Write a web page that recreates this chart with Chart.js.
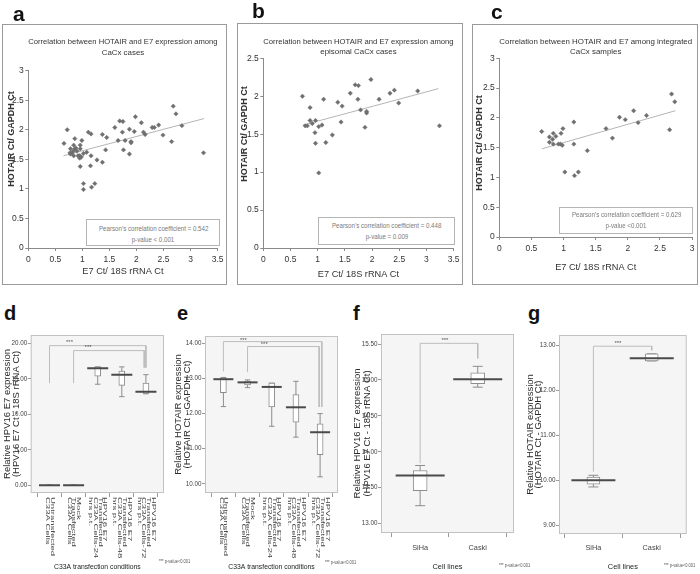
<!DOCTYPE html>
<html lang="en">
<head>
<meta charset="UTF-8">
<title>HOTAIR and HPV16 E7 expression</title>
<script src="https://cdn.jsdelivr.net/npm/chart.js"></script>
<style>
  body { margin: 0; background: #fff; }
  #fig { position: relative; width: 700px; height: 574px; overflow: hidden; background: #fff; }
  .frame { position: absolute; border: 1.5px solid #9a9a9a; box-sizing: border-box; pointer-events: none; }
  .plabel { position: absolute; font: bold 21px 'Liberation Sans', Arial, sans-serif; line-height: 21px; color: #111; }
  .plabel.sm { font-size: 20px; line-height: 20px; }
  .pearson { position: absolute; background: #fff; border: 1px solid #b5b5b5; box-sizing: border-box;
             color: #7a7a7a; font: 7.5px 'Liberation Sans Narrow', 'Arial Narrow', 'Liberation Sans', sans-serif;
             line-height: 11px; text-align: center; white-space: nowrap; }
  .pearson span { display: inline-block; transform: scaleX(0.82); transform-origin: center; }
  .pnote { position: absolute; font: 5px 'Liberation Sans Narrow', 'Arial Narrow', 'Liberation Sans', sans-serif;
           color: #555; line-height: 5px; white-space: nowrap; transform: scaleX(0.8); transform-origin: left; }
</style>
</head>
<body>
<div id="fig"></div>

<script>
// ---------- panels a-c: HOTAIR Ct/GAPDH Ct vs E7 Ct/18S rRNA Ct ----------
// episomal cases (panel b)
const episomalE7     = [0.72, 0.77, 0.81, 0.86, 0.86, 0.90, 0.96, 0.95, 0.96, 1.02, 1.02, 1.08, 1.11, 1.15, 1.27, 1.37, 1.43,
                        1.45, 1.60, 1.69, 1.75, 1.74, 1.79, 1.87, 1.90, 1.90, 1.98, 2.13, 2.33, 2.41, 2.49, 2.84, 3.24];
const episomalHotair = [2.00, 1.61, 1.61, 1.85, 1.68, 1.64, 1.68, 1.52, 1.38, 0.99, 1.60, 1.62, 1.96, 1.39, 1.49, 1.92, 1.66,
                        1.87, 2.04, 2.15, 2.14, 1.96, 1.82, 1.59, 1.78, 1.80, 2.22, 1.96, 2.04, 2.08, 1.91, 2.07, 1.61];
// integrated cases (panel c)
const integratedE7     = [0.66, 0.78, 0.78, 0.83, 0.84, 0.88, 0.84, 0.92, 0.95, 0.96, 0.99, 0.98, 1.02, 1.16, 1.16, 1.17,
                          1.23, 1.37, 1.66, 1.76, 1.87, 1.96, 2.09, 2.16, 2.29, 2.65, 2.68, 2.73];
const integratedHotair = [1.77, 1.68, 1.59, 1.64, 1.74, 1.69, 1.56, 1.56, 1.56, 1.74, 1.82, 1.54, 1.09, 1.93, 1.56, 1.03,
                          1.09, 1.45, 1.82, 1.66, 2.01, 1.97, 2.12, 1.92, 2.04, 1.80, 2.40, 2.27];
// all CaCx cases (panel a) = episomal + integrated
const allE7     = episomalE7.concat(integratedE7);
const allHotair = episomalHotair.concat(integratedHotair);

// trend line end points
const trendAllE7 = [0.65, 3.25],        trendAllHotair = [1.56, 2.19];
const trendEpisomalE7 = [0.73, 3.22],   trendEpisomalHotair = [1.62, 2.10];
const trendIntegratedE7 = [0.66, 2.74], trendIntegratedHotair = [1.48, 2.12];

// ---------- panels d, e: C33A transfection ----------
const c33aConditions = [
  ['Untransfected', 'C33A Cells'],
  ['Mock', 'Transfected', 'C33A Cells'],
  ['HPV16 E7', 'Transfected', 'C33A Cells-24', 'hrs p.t.'],
  ['HPV16 E7', 'Transfected', 'C33A Cells-48', 'hrs p.t.'],
  ['HPV16 E7', 'Transfected', 'C33A Cells-72', 'hrs p.t.']
];
const e7Min    = [0, 0, 14.25, 12.5, 12.9];
const e7Q1     = [0, 0, 15.4, 14.1, 12.95];
const e7Median = [0, 0, 16.5, 15.6, 13.2];
const e7Q3     = [0, 0, 16.7, 16.1, 14.4];
const e7Max    = [0, 0, 16.7, 16.7, 15.6];
const e7Ticks  = [0, 5, 10, 15, 20];
const e7Brackets = [[1, 14.4, 19.7, 5, 16.6], [2, 14.4, 19.0, 4.93, 16.6]];   // [x1, y1, top, x2, y2]
const e7Stars    = [[1.83, 20.1], [2.6, 19.4]];

const hotairMin    = [12.20, 12.74, 11.64, 11.33, 10.20];
const hotairQ1     = [12.60, 12.82, 12.19, 11.76, 10.83];
const hotairMedian = [12.98, 12.89, 12.76, 12.18, 11.47];
const hotairQ3     = [13.02, 12.93, 12.87, 12.54, 11.71];
const hotairMax    = [13.03, 12.96, 12.87, 12.92, 12.00];
const hotairTicks  = [10, 11, 12, 13, 14];
const hotairBrackets = [[1, 13.2, 14.05, 5.07, 12.19], [2, 13.18, 13.91, 4.96, 12.19]];
const hotairStars    = [[1.83, 14.1], [2.69, 13.96]];

// ---------- panels f, g: cell lines ----------
const cellLines = ['SiHa', 'Caski'];
const cellE7Min    = [13.25, 14.90];
const cellE7Q1     = [13.46, 14.95];
const cellE7Median = [13.67, 15.01];
const cellE7Q3     = [13.74, 15.10];
const cellE7Max    = [13.81, 15.19];
const cellE7Ticks  = [13, 13.5, 14, 14.5, 15, 15.5];
const cellE7Brackets = [[1, 13.84, 15.51, 2, 15.30]];
const cellE7Stars    = [[1.43, 15.55]];

const cellHotairMin    = [9.85, 12.66];
const cellHotairQ1     = [9.91, 12.66];
const cellHotairMedian = [10.00, 12.72];
const cellHotairQ3     = [10.07, 12.82];
const cellHotairMax    = [10.11, 12.82];
const cellHotairTicks  = [9, 10, 11, 12, 13];
const cellHotairBrackets = [[1, 10.19, 12.99, 2, 12.90]];
const cellHotairStars    = [[1.42, 13.06]];

// ----------------------------------------------------------------------
const NARROW = "'Liberation Sans Narrow', 'Arial Narrow', 'Liberation Sans', sans-serif";
const ARIAL = "'Liberation Sans', Arial, sans-serif";
Chart.defaults.font.family = NARROW;
Chart.defaults.color = '#333';

const fig = document.getElementById('fig');

function addCanvas(id, r) {
  const c = document.createElement('canvas');
  c.id = id;
  c.width = r.w;
  c.height = r.h;
  c.style.cssText = `position:absolute;left:${r.x}px;top:${r.y}px;width:${r.w}px;height:${r.h}px`;
  fig.appendChild(c);
  return c;
}

function addDiv(cls, css, html) {
  const d = document.createElement('div');
  d.className = cls;
  d.style.cssText = css;
  if (html) d.innerHTML = html;
  fig.appendChild(d);
  return d;
}

const pts = (xs, ys) => xs.map((x, i) => ({x, y: ys[i]}));

const TITLE_SIZE = 7.9, TITLE_LH = 1.3;

// the Excel charts put the y title a bit above the middle of the axis
function yTitleAt(p) {
  return {
    id: 'yTitleAt',
    afterDraw(chart) {
      const ctx = chart.ctx;
      ctx.save();
      ctx.translate(p.yTitlePos[0] - p.canvas.x, p.yTitlePos[1] - p.canvas.y);
      ctx.rotate(-Math.PI / 2);
      ctx.fillStyle = '#333';
      ctx.font = `bold 9px ${ARIAL}`;
      ctx.textAlign = 'center';
      ctx.textBaseline = 'middle';
      ctx.fillText('HOTAIR Ct/ GAPDH Ct', 0, 0);
      ctx.restore();
    }
  };
}

function scatterPanel(p) {
  const cv = addCanvas(p.id, p.canvas);
  const yW = p.plot.l - p.canvas.x;
  const xH = p.canvas.y + p.canvas.h - p.plot.b;
  const padR = p.canvas.x + p.canvas.w - p.plot.r;
  const lh = TITLE_SIZE * TITLE_LH;
  const tTop = p.titleTop - p.canvas.y;
  const tBot = p.plot.t - p.titleTop - 2 * lh;

  return new Chart(cv, {
    type: 'scatter',
    data: {
      datasets: [
        {
          data: pts(p.xs, p.ys),
          pointStyle: 'rectRot',
          pointRadius: 2.2,
          backgroundColor: '#6f6f6f',
          borderColor: '#6f6f6f',
          pointBorderWidth: 0.5,
          order: 0
        },
        {
          type: 'line',
          data: pts(p.trendX, p.trendY),
          borderColor: '#b5b5b5',
          borderWidth: 1,
          pointRadius: 0,
          order: 1
        }
      ]
    },
    options: {
      responsive: false,
      animation: false,
      events: [],
      layout: { autoPadding: false, padding: { left: 0, right: padR, top: 0, bottom: 0 } },
      plugins: {
        legend: { display: false },
        tooltip: { enabled: false },
        title: {
          display: true,
          fullSize: false,
          text: p.title,
          color: '#333',
          font: { family: NARROW, size: TITLE_SIZE, weight: 'normal', lineHeight: TITLE_LH },
          padding: { top: tTop, bottom: tBot }
        }
      },
      scales: {
        x: {
          type: 'linear',
          min: 0,
          max: p.xMax,
          afterFit: s => { s.height = xH; },
          ticks: { stepSize: 0.5, padding: 3.5, color: '#333', font: { size: 8.5 }, callback: v => String(v) },
          grid: { drawOnChartArea: false, tickLength: 3, color: '#8a8a8a' },
          border: { color: '#8a8a8a' },
          title: {
            display: true, text: 'E7 Ct/ 18S rRNA Ct', color: '#333',
            font: { family: NARROW, size: 9.2 }, padding: { top: 0, bottom: p.xTitlePad }
          }
        },
        y: {
          min: 0,
          max: p.yMax,
          afterFit: s => { s.width = yW; },
          ticks: { stepSize: 0.5, padding: 1.5, color: '#333', font: { size: 8.5 }, callback: v => String(v) },
          grid: { drawOnChartArea: false, tickLength: 3, color: '#8a8a8a' },
          border: { color: '#8a8a8a' }
        }
      }
    },
    plugins: [yTitleAt(p)]
  });
}

// background, frame, significance stars and rotated category labels
function boxDecor(p) {
  return {
    id: 'boxDecor',
    beforeDraw(chart) {
      const { ctx, chartArea: a } = chart;
      ctx.save();
      ctx.fillStyle = '#f5f5f5';
      ctx.fillRect(a.left, a.top, a.width, a.height);
      ctx.restore();
    },
    afterDraw(chart) {
      const { ctx, chartArea: a, scales: { x, y } } = chart;
      ctx.save();
      ctx.strokeStyle = '#c2c2c2';
      ctx.lineWidth = 1;
      ctx.strokeRect(a.left + 0.5, a.top + 0.5, a.width - 1, a.height - 1);

      ctx.fillStyle = '#555';
      ctx.font = `6px ${NARROW}`;
      ctx.textAlign = 'center';
      ctx.textBaseline = 'middle';
      p.stars.forEach(([sx, sy]) => ctx.fillText('***', x.getPixelForValue(sx), y.getPixelForValue(sy)));

      if (p.rotated) {
        ctx.fillStyle = '#444';
        ctx.font = `9.5px ${ARIAL}`;
        ctx.textAlign = 'left';
        p.labels.forEach((group, i) => {
          const cx = x.getPixelForValue(i + 1);
          group.forEach((line, j) => {
            ctx.save();
            ctx.translate(cx + ((group.length - 1) / 2 - j) * 4.7, a.bottom + 4);
            ctx.rotate(Math.PI / 2);
            ctx.scale(1, 0.5);
            ctx.fillText(line, 0, 0);
            ctx.restore();
          });
        });
      }
      ctx.restore();
    }
  };
}

function boxPanel(p) {
  const cv = addCanvas(p.id, p.canvas);
  const yW = p.plot.l - p.canvas.x;
  const xH = p.canvas.y + p.canvas.h - p.plot.b;
  const padR = p.canvas.x + p.canvas.w - p.plot.r;
  const padT = p.plot.t - p.canvas.y;

  const whiskers = [], caps = [], boxes = [], medians = [], brackets = [];
  p.labels.forEach((_, i) => {
    const x = i + 1;
    whiskers.push({ x, y: p.min[i] }, { x, y: p.max[i] }, { x, y: null });
    caps.push({ x, y: p.min[i] }, { x, y: p.max[i] });
    boxes.push({ x, y: [p.q1[i], p.q3[i]] });
    medians.push({ x, y: p.median[i] });
  });
  p.brackets.forEach(([x1, y1, top, x2, y2]) => {
    brackets.push({ x: x1, y: y1 }, { x: x1, y: top }, { x: x2, y: top }, { x: x2, y: y2 }, { x: x2, y: null });
  });

  return new Chart(cv, {
    type: 'scatter',
    data: {
      datasets: [
        { type: 'line', data: medians, showLine: false, pointStyle: 'line', pointRadius: p.medHalf,
          pointBorderColor: '#4a4a4a', pointBorderWidth: 2, order: 0 },
        { type: 'line', data: brackets, borderColor: '#bcbcbc', borderWidth: 1, pointRadius: 0,
          spanGaps: false, order: 1 },
        { type: 'bar', data: boxes, backgroundColor: p.boxFill, borderColor: '#8c8c8c', borderWidth: 1,
          borderSkipped: false, barThickness: p.boxW, grouped: false, order: 2 },
        { type: 'line', data: caps, showLine: false, pointStyle: 'line', pointRadius: p.capHalf,
          pointBorderColor: '#8c8c8c', pointBorderWidth: 1, order: 3 },
        { type: 'line', data: whiskers, borderColor: '#8c8c8c', borderWidth: 1, pointRadius: 0,
          spanGaps: false, order: 4 }
      ]
    },
    options: {
      responsive: false,
      animation: false,
      events: [],
      layout: { autoPadding: false, padding: { left: 0, right: padR, top: padT, bottom: 0 } },
      plugins: { legend: { display: false }, tooltip: { enabled: false } },
      scales: {
        x: {
          type: 'linear',
          min: p.xMin,
          max: p.xMax,
          offset: false,
          afterBuildTicks: s => { s.ticks = p.labels.map((_, i) => ({ value: i + 1 })); },
          afterFit: s => { s.height = xH; },
          ticks: {
            display: !p.rotated, autoSkip: false, maxRotation: 0, padding: p.xTickPad,
            color: '#444', font: { size: 7.3 }, callback: v => p.labels[v - 1]
          },
          grid: { drawOnChartArea: false, tickLength: 4, color: '#9a9a9a' },
          border: { display: false },
          title: {
            display: true, text: p.xTitle, color: '#222',
            font: { family: NARROW, size: p.xTitleSize }, padding: { top: 0, bottom: 2.4 }
          }
        },
        y: {
          min: p.yMin,
          max: p.yMax,
          afterBuildTicks: s => { s.ticks = p.ticks.map(v => ({ value: v })); },
          afterFit: s => { s.width = yW; },
          ticks: { padding: 0.5, color: '#444', font: { size: 6.3 }, callback: v => Number(v).toFixed(2) },
          grid: { drawOnChartArea: false, tickLength: 3, color: '#9a9a9a' },
          border: { display: false },
          title: {
            display: true, text: p.yTitle, color: '#2a2a2a',
            font: { family: ARIAL, size: 9.5, lineHeight: p.yTitleLH + 'px' },
            padding: { top: p.yTitlePad, bottom: 0 }
          }
        }
      }
    },
    plugins: [boxDecor(p)]
  });
}

// ---------- top row ----------
scatterPanel({
  id: 'chartA', canvas: { x: 2, y: 24, w: 225, h: 261 }, plot: { l: 28.3, t: 70.7, r: 218.3, b: 248 },
  title: ['Correlation between HOTAIR and E7 expression among', 'CaCx cases'], titleTop: 37.1,
  xs: allE7, ys: allHotair, trendX: trendAllE7, trendY: trendAllHotair,
  xMax: 3.5, yMax: 3, xTitlePad: 8, yTitlePos: [11.7, 139]
});
scatterPanel({
  id: 'chartB', canvas: { x: 237, y: 23, w: 226, h: 262 }, plot: { l: 263.3, t: 58.3, r: 456.7, b: 248 },
  title: ['Correlation between HOTAIR and E7 expression among', 'episomal CaCx cases'], titleTop: 36.5,
  xs: episomalE7, ys: episomalHotair, trendX: trendEpisomalE7, trendY: trendEpisomalHotair,
  xMax: 3.5, yMax: 2.5, xTitlePad: 5, yTitlePos: [245, 134]
});
scatterPanel({
  id: 'chartC', canvas: { x: 472, y: 24, w: 226, h: 261 }, plot: { l: 499.3, t: 58.3, r: 692.7, b: 237 },
  title: ['Correlation between HOTAIR and E7 among integrated', 'CaCx samples'], titleTop: 36.5,
  xs: integratedE7, ys: integratedHotair, trendX: trendIntegratedE7, trendY: trendIntegratedHotair,
  xMax: 3, yMax: 3, xTitlePad: 12.3, yTitlePos: [480, 143]
});

addDiv('frame', 'left:2px;top:24px;width:225px;height:261px');
addDiv('frame', 'left:237px;top:23px;width:226px;height:262px');
addDiv('frame', 'left:472px;top:24px;width:226px;height:261px');

addDiv('pearson', 'left:86px;top:219px;width:134px;height:27px;padding-top:2.5px',
  '<span>Pearson’s correlation coefficient = 0.542</span><br><span>p-value &lt; 0.001</span>');
addDiv('pearson', 'left:318px;top:217px;width:137px;height:28px;padding-top:1.5px',
  '<span>Pearson’s correlation coefficient = 0.448</span><br><span>p-value = 0.009</span>');
addDiv('pearson', 'left:559px;top:207px;width:134px;height:27px;padding-top:1px',
  '<span>Pearson’s correlation coefficient = 0.629</span><br><span>p-value &lt;0.001</span>');

// ---------- bottom row ----------
boxPanel({
  id: 'chartD', canvas: { x: 0, y: 326, w: 172, h: 248 }, plot: { l: 30.7, t: 335, r: 164, b: 493 },
  labels: c33aConditions, rotated: true,
  min: e7Min, q1: e7Q1, median: e7Median, q3: e7Q3, max: e7Max,
  ticks: e7Ticks, yMin: -1.1, yMax: 21.2, xMin: 0.22, xMax: 5.75,
  brackets: e7Brackets, stars: e7Stars,
  medHalf: 10.5, capHalf: 2.7, boxW: 6, boxFill: '#ffffff',
  yTitle: ['Relative HPV16 E7 expression', '(HPV16 E7 Ct - 18S rRNA Ct)'], yTitleLH: 9.5, yTitlePad: 2.5,
  xTitle: 'C33A transfection conditions', xTitleSize: 6.8, xTickPad: 4
});
boxPanel({
  id: 'chartE', canvas: { x: 172, y: 326, w: 174, h: 248 }, plot: { l: 205, t: 336, r: 338, b: 493 },
  labels: c33aConditions, rotated: true,
  min: hotairMin, q1: hotairQ1, median: hotairMedian, q3: hotairQ3, max: hotairMax,
  ticks: hotairTicks, yMin: 9.74, yMax: 14.21, xMin: 0.24, xMax: 5.74,
  brackets: hotairBrackets, stars: hotairStars,
  medHalf: 10, capHalf: 2.7, boxW: 6, boxFill: '#ffffff',
  yTitle: ['Relative HOTAIR expression', '(HOTAIR Ct - GAPDH Ct)'], yTitleLH: 9, yTitlePad: 1.8,
  xTitle: 'C33A transfection conditions', xTitleSize: 6.8, xTickPad: 4
});
boxPanel({
  id: 'chartF', canvas: { x: 346, y: 326, w: 175, h: 248 }, plot: { l: 381, t: 334, r: 514, b: 533 },
  labels: cellLines, rotated: false,
  min: cellE7Min, q1: cellE7Q1, median: cellE7Median, q3: cellE7Q3, max: cellE7Max,
  ticks: cellE7Ticks, yMin: 12.87, yMax: 15.64, xMin: 0.32, xMax: 2.63,
  brackets: cellE7Brackets, stars: cellE7Stars,
  medHalf: 24.5, capHalf: 5, boxW: 14, boxFill: '#ffffff',
  yTitle: ['Relative HPV16 E7 expression', '(HPV16 E7 Ct - 18S rRNA Ct)'], yTitleLH: 10, yTitlePad: 6,
  xTitle: 'Cell lines', xTitleSize: 7.4, xTickPad: 6.5
});
boxPanel({
  id: 'chartG', canvas: { x: 521, y: 326, w: 179, h: 248 }, plot: { l: 559, t: 335, r: 686.7, b: 534 },
  labels: cellLines, rotated: false,
  min: cellHotairMin, q1: cellHotairQ1, median: cellHotairMedian, q3: cellHotairQ3, max: cellHotairMax,
  ticks: cellHotairTicks, yMin: 8.8, yMax: 13.24, xMin: 0.41, xMax: 2.6,
  brackets: cellHotairBrackets, stars: cellHotairStars,
  medHalf: 22, capHalf: 5, boxW: 13, boxFill: '#ffffff',
  yTitle: ['Relative HOTAIR expression', '(HOTAIR Ct - GAPDH Ct)'], yTitleLH: 8, yTitlePad: 5.5,
  xTitle: 'Cell lines', xTitleSize: 7.4, xTickPad: 5.8
});

addDiv('pnote', 'left:159px;top:559px', '*** p-value&lt;0.001');
addDiv('pnote', 'left:325px;top:560px', '*** p-value&lt;0.001');
addDiv('pnote', 'left:499px;top:563px', '*** p-value&lt;0.001');
addDiv('pnote', 'left:664px;top:563px', '*** p-value&lt;0.001');

// panel letters
addDiv('plabel', 'left:13px;top:3px', 'a');
addDiv('plabel', 'left:252px;top:0px', 'b');
addDiv('plabel', 'left:491px;top:1px', 'c');
addDiv('plabel sm', 'left:4px;top:303px', 'd');
addDiv('plabel sm', 'left:177px;top:303px', 'e');
addDiv('plabel sm', 'left:353px;top:303px', 'f');
addDiv('plabel sm', 'left:528px;top:303px', 'g');
</script>
</body>
</html>
